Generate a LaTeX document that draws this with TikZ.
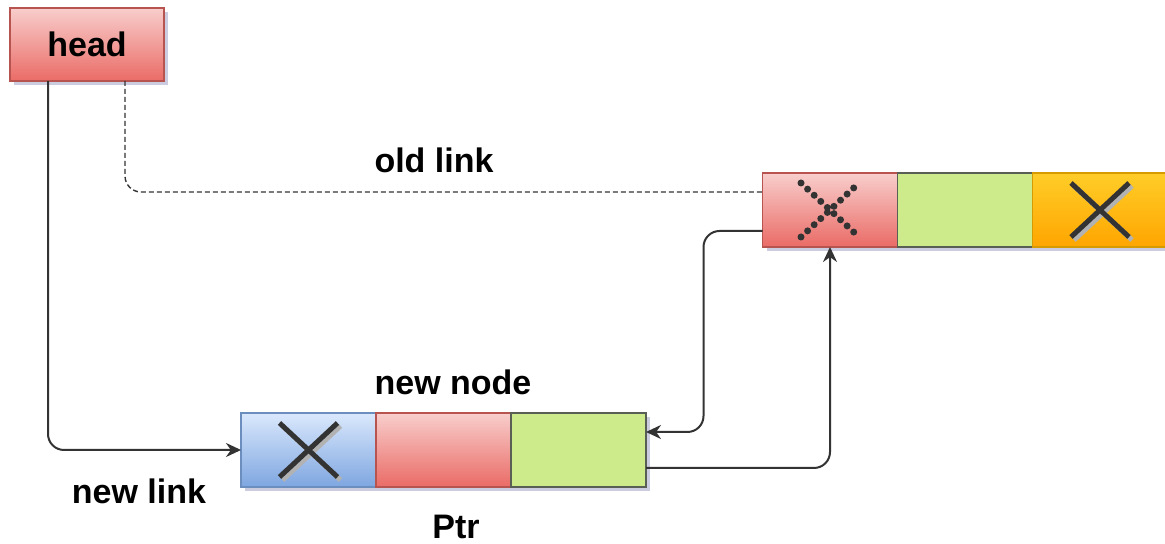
\documentclass[tikz,border=0pt]{standalone}
\usepackage{fontspec}
\setmainfont{Liberation Sans}
\usetikzlibrary{positioning, calc, shadows, arrows.meta}

\definecolor{redtop}{HTML}{F8CECC}
\definecolor{redbot}{HTML}{EA6B66}
\definecolor{redline}{HTML}{B85450}
\definecolor{bluetop}{HTML}{DAE8FC}
\definecolor{bluebot}{HTML}{7EA6E0}
\definecolor{blueline}{HTML}{6C8EBF}
\definecolor{greenfill}{HTML}{CDEB8B}
\definecolor{greenline}{HTML}{5A5F55}
\definecolor{orangetop}{HTML}{FFCD28}
\definecolor{orangebot}{HTML}{FFA500}
\definecolor{orangeline}{HTML}{D79B00}
\definecolor{linkgray}{HTML}{333333}

\begin{document}
\begin{tikzpicture}[
  x=0.5pt, y=0.5pt,
  font=\fontsize{17}{20}\selectfont\bfseries,
  cell/.style={minimum width=67.5pt, minimum height=37pt, inner sep=0pt,
    outer sep=0pt, line width=0.6pt,
    drop shadow={shadow xshift=2pt, shadow yshift=-2pt, fill=blue!40!black, opacity=0.2}},
  redcell/.style={cell, top color=redtop, bottom color=redbot, draw=redline},
  bluecell/.style={cell, top color=bluetop, bottom color=bluebot, draw=blueline},
  greencell/.style={cell, fill=greenfill, draw=greenline},
  orangecell/.style={cell, top color=orangetop, bottom color=orangebot, draw=orangeline},
  link/.style={draw=linkgray, line width=1pt, rounded corners=8pt},
  cross/.style={draw=linkgray, line width=2.5pt},
  crossshadow/.style={draw=gray!60, line width=2.5pt},
  >={Stealth[length=7.5pt, width=7pt]}]

  \useasboundingbox (0,0) rectangle (1165,544);

  % head pointer
  \node[redcell, minimum width=77pt, minimum height=36.5pt] (head) at (87,499.5) {head};

  % new node
  \node[bluecell] (nblue) at (308.5,94) {};
  \node[redcell, right=0pt of nblue] (nred) {};
  \node[greencell, right=0pt of nred] (ngreen) {};

  % old first node
  \node[redcell] (ored) at (830,334) {};
  \node[greencell, right=0pt of ored] (ogreen) {};
  \node[orangecell, right=0pt of ogreen] (oorange) {};

  % crosses
  \foreach \c in {nblue, oorange}{
    \draw[crossshadow] ($(\c)+(-26,-30)$) -- ($(\c)+(32,24)$)
                       ($(\c)+(-26,24)$) -- ($(\c)+(32,-30)$);
    \draw[cross] ($(\c)+(-29,-27)$) -- ($(\c)+(29,27)$)
                 ($(\c)+(-29,27)$) -- ($(\c)+(29,-27)$);
  }
  \draw[draw=linkgray, line width=3.5pt, line cap=round, dash pattern=on 0pt off 4.5pt]
    ($(ored)+(-29,-27)$) -- ($(ored)+(29,27)$)
    ($(ored)+(-29,27)$) -- ($(ored)+(29,-27)$);

  % labels
  \node (oldlbl) at (434,384) {old link};
  \node (newlbl) at (453,162) {new node};
  \node (linklbl) at (139,53) {new link};
  \node (ptrlbl) at (456,17) {Ptr};

  % links
  \draw[link, ->] ($(head.south west)+(38,0)$) |- (nblue.west);
  \draw[link, line width=0.7pt, dash pattern=on 2.5pt off 1.5pt]
    ($(head.south west)+(115,0)$) |- ($(ored.west)+(0,18)$);
  \draw[link, ->] ($(ored.west)+(0,-21)$) -- ++(-59,0) |- ($(ngreen.east)+(0,18)$);
  \draw[link, ->] ($(ngreen.east)+(0,-18)$) -| (ored.south);
\end{tikzpicture}
\end{document}
